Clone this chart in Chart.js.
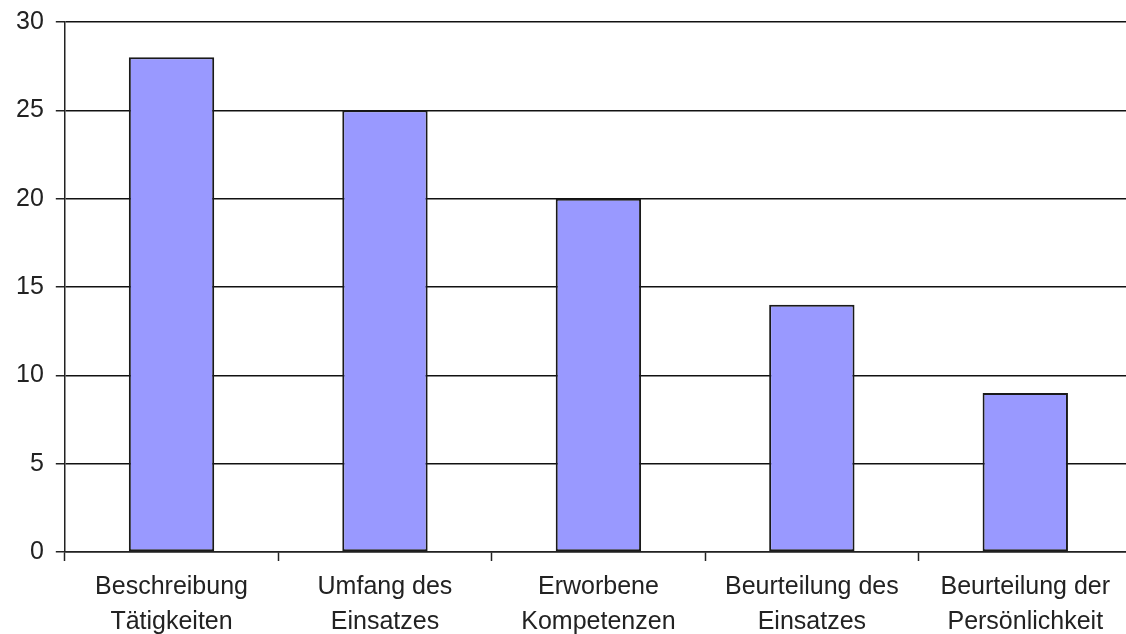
<!DOCTYPE html>
<html>
<head>
<meta charset="utf-8">
<script src="https://cdn.jsdelivr.net/npm/chart.js@4"></script>
<style>
  html, body { margin: 0; padding: 0; background: #fff; overflow: hidden; }
  #wrap { position: relative; width: 1136px; height: 653px; margin-top: -5px; }
</style>
</head>
<body>
<div id="wrap"><canvas id="myChart"></canvas></div>
<script>
  const labels = [
    ["Beschreibung", "Tätigkeiten"],
    ["Umfang des", "Einsatzes"],
    ["Erworbene", "Kompetenzen"],
    ["Beurteilung des", "Einsatzes"],
    ["Beurteilung der", "Persönlichkeit"],
  ]
  const counts = [28, 25, 20, 14, 9]
  const yTicks = [0, 5, 10, 15, 20, 25, 30]

  Chart.defaults.font.family = "'Liberation Sans', Arial, sans-serif"
  Chart.defaults.color = "#222"

  const ctx = document.getElementById("myChart")

  new Chart(ctx, {
    type: "bar",
    data: {
      labels: labels,
      datasets: [
        {
          data: counts,
          backgroundColor: "#9999ff",
          borderColor: "#1a1a1a",
          borderWidth: 2,
          borderSkipped: false,
          categoryPercentage: 1,
          barPercentage: 0.4,
        },
      ],
    },
    options: {
      responsive: true,
      maintainAspectRatio: false,
      animation: false,
      layout: { padding: { left: 4, top: 2, right: 4, bottom: 0 } },
      plugins: {
        legend: { display: false },
        tooltip: { enabled: false },
      },
      scales: {
        x: {
          grid: {
            display: true,
            drawOnChartArea: false,
            tickLength: 9,
            tickColor: "#222",
            tickWidth: 1.5,
          },
          border: { color: "#222", width: 1.5 },
          ticks: {
            font: { size: 25, lineHeight: 1.42 },
            color: "#222",
            padding: 8,
            maxRotation: 0,
            autoSkip: false,
          },
        },
        y: {
          min: 0,
          max: 30,
          afterBuildTicks: (axis) => {
            axis.ticks = yTicks.map((v) => ({ value: v }))
          },
          grid: {
            color: "#111",
            lineWidth: 1.5,
            tickLength: 9,
            tickColor: "#222",
          },
          border: { color: "#222", width: 1.5 },
          ticks: {
            font: { size: 25 },
            color: "#222",
            padding: 12,
          },
        },
      },
    },
  })
</script>
</body>
</html>
